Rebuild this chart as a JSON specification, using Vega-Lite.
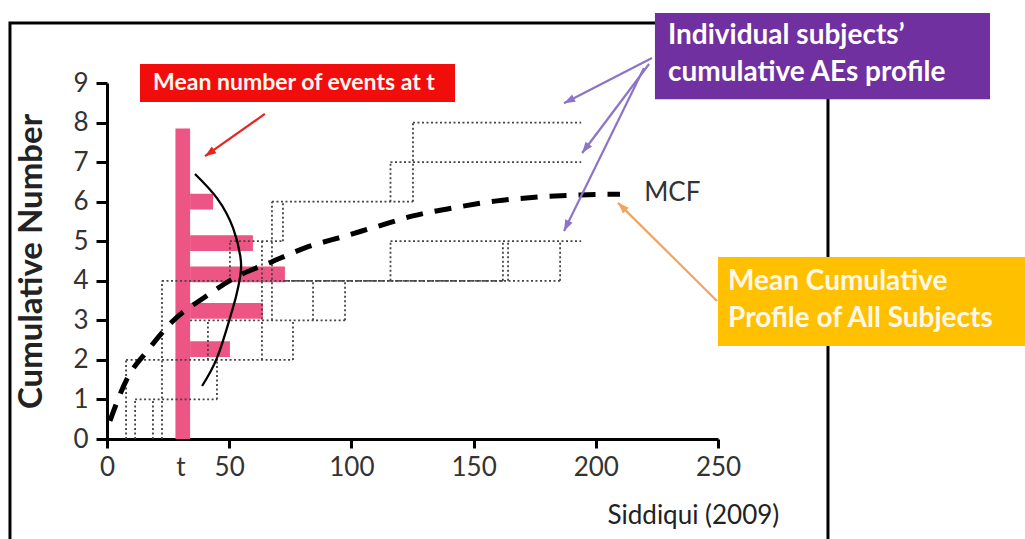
{
  "$schema": "https://vega.github.io/schema/vega-lite/v6.json",
  "width": 611,
  "height": 356,
  "autosize": "none",
  "padding": {"left": 107, "top": 83, "right": 307, "bottom": 100},
  "background": "white",
  "config": {"view": {"stroke": null}, "font": "Lato"},
  "datasets": {
    "frame": [{"x": -39.7, "x2": 295, "y": 10.52, "y2": -3.6}],
    "pink": [
      {"x": 28, "x2": 34, "y": 0, "y2": 7.85},
      {"x": 34, "x2": 43.4, "y": 5.8, "y2": 6.2},
      {"x": 34, "x2": 59.7, "y": 4.75, "y2": 5.15},
      {"x": 34, "x2": 72.8, "y": 3.96, "y2": 4.36},
      {"x": 34, "x2": 63.8, "y": 3.04, "y2": 3.44},
      {"x": 34, "x2": 50.3, "y": 2.07, "y2": 2.47}
    ],
    "steps": [
      {"x": 7.8, "x2": 7.8, "y": 0, "y2": 2},
      {"x": 11.5, "x2": 11.5, "y": 0, "y2": 1},
      {"x": 18.8, "x2": 18.8, "y": 0, "y2": 1},
      {"x": 22.5, "x2": 22.5, "y": 0, "y2": 4},
      {"x": 45, "x2": 45, "y": 1, "y2": 2},
      {"x": 41.3, "x2": 41.3, "y": 2, "y2": 3},
      {"x": 76.1, "x2": 76.1, "y": 2, "y2": 3},
      {"x": 63.4, "x2": 63.4, "y": 2, "y2": 5},
      {"x": 50.3, "x2": 50.3, "y": 4, "y2": 5},
      {"x": 67.5, "x2": 67.5, "y": 3, "y2": 6},
      {"x": 72, "x2": 72, "y": 5, "y2": 6},
      {"x": 84.3, "x2": 84.3, "y": 3, "y2": 4},
      {"x": 97.4, "x2": 97.4, "y": 3, "y2": 4},
      {"x": 116, "x2": 116, "y": 4, "y2": 5},
      {"x": 116, "x2": 116, "y": 6, "y2": 7},
      {"x": 125.2, "x2": 125.2, "y": 6, "y2": 8},
      {"x": 162, "x2": 162, "y": 4, "y2": 5},
      {"x": 164.1, "x2": 164.1, "y": 4, "y2": 5},
      {"x": 185.4, "x2": 185.4, "y": 4, "y2": 5},
      {"x": 11.5, "x2": 45, "y": 1, "y2": 1},
      {"x": 7.8, "x2": 76.1, "y": 2, "y2": 2},
      {"x": 34, "x2": 97.4, "y": 3, "y2": 3},
      {"x": 22.5, "x2": 185.4, "y": 4, "y2": 4},
      {"x": 50.3, "x2": 72, "y": 5, "y2": 5},
      {"x": 116, "x2": 194, "y": 5, "y2": 5},
      {"x": 67.5, "x2": 125.2, "y": 6, "y2": 6},
      {"x": 116, "x2": 194, "y": 7, "y2": 7},
      {"x": 125.2, "x2": 194, "y": 8, "y2": 8}
    ],
    "overlap": [{"x": 72, "x2": 162, "y": 4, "y2": 4}],
    "arc": [
      {"o": 1, "x": 36.0, "y": 6.70},
      {"o": 2, "x": 45.0, "y": 6.09},
      {"o": 3, "x": 51.6, "y": 5.33},
      {"o": 4, "x": 54.6, "y": 4.6},
      {"o": 5, "x": 54.6, "y": 4.15},
      {"o": 6, "x": 52.8, "y": 3.6},
      {"o": 7, "x": 50.3, "y": 3.06},
      {"o": 8, "x": 45.0, "y": 2.05},
      {"o": 9, "x": 38.9, "y": 1.34}
    ],
    "mcf": [
      {"x": 1.2, "y": 0.46},
      {"x": 8.2, "y": 1.52},
      {"x": 16.8, "y": 2.25},
      {"x": 27.4, "y": 3.01},
      {"x": 40.1, "y": 3.59},
      {"x": 53.6, "y": 4.12},
      {"x": 67.1, "y": 4.47},
      {"x": 81.0, "y": 4.83},
      {"x": 97.4, "y": 5.13},
      {"x": 110.9, "y": 5.38},
      {"x": 125.2, "y": 5.64},
      {"x": 143.2, "y": 5.86},
      {"x": 159.6, "y": 6.02},
      {"x": 177.2, "y": 6.12},
      {"x": 193.5, "y": 6.17},
      {"x": 209.9, "y": 6.19}
    ],
    "arrows": [
      {"kind": "red", "x": 40.1, "y": 7.15, "x2": 64.6, "y2": 8.22, "angle": 235},
      {"kind": "purple", "x": 187.0, "y": 8.49, "x2": 223.0, "y2": 9.63, "angle": 243},
      {"kind": "purple", "x": 194.4, "y": 7.23, "x2": 221.8, "y2": 9.48, "angle": 217},
      {"kind": "purple", "x": 187.0, "y": 5.26, "x2": 219.7, "y2": 9.38, "angle": 206},
      {"kind": "orange", "x": 209.1, "y": 5.97, "x2": 249.6, "y2": 3.49, "angle": 315}
    ],
    "boxes": [
      {"kind": "red", "x": 13.5, "x2": 142.4, "y": 8.52, "y2": 9.48},
      {"kind": "purple", "x": 224.2, "x2": 361.3, "y": 8.59, "y2": 10.77},
      {"kind": "orange", "x": 250, "x2": 378, "y": 2.35, "y2": 4.6}
    ],
    "redText": [{"x": 76.5, "y": 9.0, "label": "Mean number of events at t"}],
    "purpleText": [
      {"x": 229.5, "y": 10.19, "label": "Individual subjects’"},
      {"x": 229.5, "y": 9.25, "label": "cumulative AEs profile"}
    ],
    "orangeText": [
      {"x": 254.1, "y": 3.97, "label": "Mean Cumulative"},
      {"x": 254.1, "y": 3.03, "label": "Profile of All Subjects"}
    ],
    "mcfText": [{"x": 219.8, "y": 6.21, "label": "MCF"}],
    "source": [{"x": 204.8, "y": -1.95, "label": "Siddiqui (2009)"}]
  },
  "encoding": {
    "x": {
      "field": "x", "type": "quantitative",
      "scale": {"domain": [0, 250], "nice": false, "zero": false},
      "axis": {
        "title": null, "grid": false,
        "values": [0, 30, 50, 100, 150, 200, 250],
        "labelExpr": "datum.value == 30 ? 't' : datum.label",
        "domainColor": "black", "domainWidth": 3,
        "tickColor": "black", "tickWidth": 3, "tickSize": 9,
        "tickOpacity": {"condition": {"test": "datum.value == 30", "value": 0}, "value": 1},
        "labelFont": "Lato", "labelFontSize": 26, "labelColor": "#333333",
        "labelPadding": 6, "labelFlush": false, "labelOverlap": false
      }
    },
    "y": {
      "field": "y", "type": "quantitative",
      "scale": {"domain": [0, 9], "nice": false, "zero": false},
      "axis": {
        "title": "Cumulative Number", "grid": false,
        "values": [0, 1, 2, 3, 4, 5, 6, 7, 8, 9],
        "domainColor": "black", "domainWidth": 3,
        "tickColor": "black", "tickWidth": 3, "tickSize": 11,
        "labelFont": "Lato", "labelFontSize": 26, "labelColor": "#333333",
        "labelPadding": 8, "labelFlush": false, "labelOverlap": false,
        "titleFont": "Lato", "titleFontSize": 33, "titleFontWeight": "bold", "titleColor": "#222222",
        "titleAngle": 270, "titleAlign": "center", "titleBaseline": "middle",
        "titleX": -76, "titleY": 178
      }
    }
  },
  "layer": [
    {
      "data": {"name": "frame"},
      "mark": {"type": "rect", "fill": "white", "fillOpacity": 0, "stroke": "black", "strokeWidth": 3},
      "encoding": {"x2": {"field": "x2"}, "y2": {"field": "y2"}}
    },
    {
      "data": {"name": "pink"},
      "mark": {"type": "rect", "color": "#EC5584"},
      "encoding": {"x2": {"field": "x2"}, "y2": {"field": "y2"}}
    },
    {
      "data": {"name": "overlap"},
      "mark": {"type": "rule", "color": "#555555", "strokeWidth": 1.8, "strokeDash": [6, 2]},
      "encoding": {"x2": {"field": "x2"}, "y2": {"field": "y2"}}
    },
    {
      "data": {"name": "steps"},
      "mark": {"type": "rule", "color": "#444444", "strokeWidth": 1.8, "strokeDash": [2, 2.5]},
      "encoding": {"x2": {"field": "x2"}, "y2": {"field": "y2"}}
    },
    {
      "data": {"name": "arc"},
      "mark": {"type": "line", "color": "black", "strokeWidth": 2.3, "interpolate": "natural"},
      "encoding": {"order": {"field": "o", "type": "quantitative"}}
    },
    {
      "data": {"name": "mcf"},
      "mark": {"type": "line", "color": "black", "strokeWidth": 5, "strokeDash": [17, 12], "interpolate": "monotone"},
      "encoding": {}
    },
    {
      "data": {"name": "arrows"},
      "mark": {"type": "rule", "strokeWidth": 2.2},
      "encoding": {
        "x2": {"field": "x2"}, "y2": {"field": "y2"},
        "color": {"field": "kind", "type": "nominal", "scale": {"domain": ["red", "purple", "orange"], "range": ["#E5261C", "#8C74C6", "#F4A35E"]}, "legend": null}
      }
    },
    {
      "data": {"name": "arrows"},
      "mark": {"type": "point", "shape": "M0,0L0.55,1.5L-0.55,1.5Z", "filled": true, "opacity": 1, "size": 220},
      "encoding": {
        "angle": {"field": "angle", "type": "quantitative", "scale": null},
        "color": {"field": "kind", "type": "nominal", "scale": {"domain": ["red", "purple", "orange"], "range": ["#E5261C", "#8C74C6", "#F4A35E"]}, "legend": null}
      }
    },
    {
      "data": {"name": "boxes"},
      "mark": {"type": "rect"},
      "encoding": {
        "x2": {"field": "x2"}, "y2": {"field": "y2"},
        "fill": {"field": "kind", "type": "nominal", "scale": {"domain": ["red", "purple", "orange"], "range": ["#F20D0D", "#7030A0", "#FFC000"]}, "legend": null}
      }
    },
    {
      "data": {"name": "redText"},
      "mark": {"type": "text", "font": "Lato", "fontWeight": "bold", "fontSize": 23, "color": "#FFF8F0", "align": "center", "baseline": "middle"},
      "encoding": {"text": {"field": "label"}}
    },
    {
      "data": {"name": "purpleText"},
      "mark": {"type": "text", "font": "Lato", "fontWeight": "bold", "fontSize": 28, "color": "white", "align": "left", "baseline": "middle"},
      "encoding": {"text": {"field": "label"}}
    },
    {
      "data": {"name": "orangeText"},
      "mark": {"type": "text", "font": "Lato", "fontWeight": "bold", "fontSize": 28, "color": "#FFF8E8", "align": "left", "baseline": "middle"},
      "encoding": {"text": {"field": "label"}}
    },
    {
      "data": {"name": "mcfText"},
      "mark": {"type": "text", "font": "Lato", "fontSize": 26, "color": "#333333", "align": "left", "baseline": "middle"},
      "encoding": {"text": {"field": "label"}}
    },
    {
      "data": {"name": "source"},
      "mark": {"type": "text", "font": "Lato", "fontSize": 26, "color": "#222222", "align": "left", "baseline": "middle"},
      "encoding": {"text": {"field": "label"}}
    }
  ]
}
